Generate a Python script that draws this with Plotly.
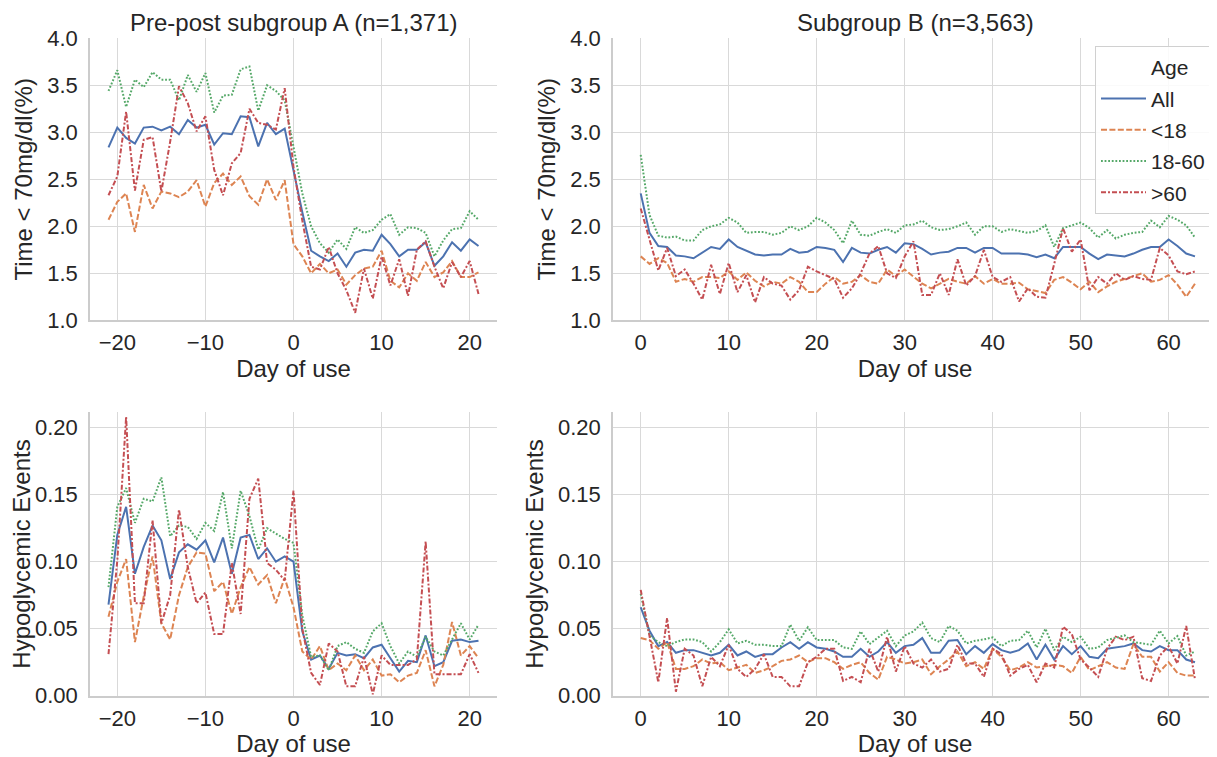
import plotly.graph_objects as go

# ---------------- data ----------------
days_a = list(range(-21, 22))
days_b = list(range(0, 64))
series_names = ["All", "<18", "18-60", ">60"]

# Top-left: Time < 70 mg/dl (%), subgroup A
tir_a_all = [2.84, 3.05, 2.94, 2.88, 3.05, 3.06, 3.02, 3.06, 2.98, 3.13, 3.05, 3.08, 2.87, 2.99, 2.98, 3.17, 3.16, 2.85, 3.10, 2.98, 3.04,
             2.58, 2.15, 1.74, 1.68, 1.63, 1.71, 1.57, 1.72, 1.75, 1.74, 1.91, 1.81, 1.68, 1.75, 1.75, 1.83, 1.58, 1.68, 1.83, 1.74, 1.86, 1.79]
tir_a_u18 = [2.07, 2.26, 2.35, 1.94, 2.44, 2.19, 2.37, 2.35, 2.31, 2.37, 2.49, 2.21, 2.46, 2.56, 2.44, 2.53, 2.32, 2.23, 2.50, 2.28, 2.49,
             1.81, 1.68, 1.50, 1.60, 1.50, 1.54, 1.38, 1.48, 1.55, 1.57, 1.74, 1.42, 1.35, 1.50, 1.42, 1.62, 1.46, 1.51, 1.63, 1.46, 1.46, 1.51]
tir_a_1860 = [3.44, 3.66, 3.27, 3.56, 3.48, 3.64, 3.56, 3.56, 3.34, 3.61, 3.43, 3.63, 3.21, 3.39, 3.40, 3.67, 3.70, 3.23, 3.50, 3.44, 3.34,
              2.85, 2.35, 2.00, 1.82, 1.72, 1.86, 1.76, 1.99, 1.93, 1.96, 2.07, 2.13, 1.91, 1.99, 1.98, 1.93, 1.68, 1.85, 1.97, 1.98, 2.16, 2.07]
tir_a_o60 = [2.33, 2.53, 3.22, 2.38, 2.92, 2.95, 2.37, 2.90, 3.49, 3.31, 3.01, 3.17, 2.60, 2.33, 2.67, 2.78, 3.25, 3.10, 3.08, 3.03, 3.47,
             2.63, 2.06, 1.57, 1.54, 1.78, 1.50, 1.32, 1.08, 1.55, 1.23, 1.68, 1.37, 1.65, 1.26, 1.75, 1.84, 1.57, 1.34, 1.62, 1.46, 1.63, 1.28]

# Top-right: Time < 70 mg/dl (%), subgroup B
tir_b_all = [2.35, 1.93, 1.79, 1.78, 1.69, 1.68, 1.66, 1.72, 1.78, 1.76, 1.86, 1.78, 1.74, 1.70, 1.69, 1.70, 1.70, 1.76, 1.72, 1.73, 1.78, 1.77,
             1.75, 1.62, 1.77, 1.72, 1.71, 1.75, 1.78, 1.72, 1.82, 1.81, 1.76, 1.70, 1.72, 1.73, 1.77, 1.77, 1.72, 1.77, 1.77, 1.71, 1.71,
             1.71, 1.70, 1.67, 1.70, 1.66, 1.78, 1.78, 1.78, 1.71, 1.65, 1.70, 1.69, 1.68, 1.71, 1.75, 1.78, 1.78, 1.86, 1.79, 1.71, 1.68]
tir_b_u18 = [1.68, 1.60, 1.66, 1.61, 1.41, 1.44, 1.41, 1.46, 1.46, 1.45, 1.52, 1.43, 1.51, 1.42, 1.36, 1.41, 1.39, 1.46, 1.41, 1.30, 1.30, 1.39,
             1.46, 1.39, 1.41, 1.48, 1.41, 1.39, 1.54, 1.47, 1.54, 1.46, 1.39, 1.34, 1.39, 1.44, 1.41, 1.39, 1.47, 1.39, 1.44, 1.39, 1.39,
             1.40, 1.33, 1.31, 1.29, 1.43, 1.46, 1.40, 1.33, 1.41, 1.30, 1.36, 1.41, 1.44, 1.47, 1.50, 1.41, 1.43, 1.48, 1.38, 1.25, 1.39]
tir_b_1860 = [2.76, 2.12, 1.90, 1.88, 1.89, 1.85, 1.85, 1.96, 2.00, 2.02, 2.09, 2.04, 1.93, 1.94, 1.94, 1.91, 1.93, 2.00, 1.96, 2.00, 2.09, 2.04,
              1.96, 1.82, 2.06, 1.91, 1.90, 1.94, 1.97, 1.93, 2.01, 2.02, 2.06, 1.99, 1.96, 1.97, 2.00, 2.04, 1.91, 2.00, 2.00, 1.94, 1.97,
              1.95, 1.93, 1.95, 2.01, 1.78, 1.98, 2.01, 2.04, 1.98, 1.88, 1.96, 1.87, 1.91, 1.93, 1.94, 2.06, 1.99, 2.11, 2.07, 2.01, 1.88]
tir_b_o60 = [2.19, 1.85, 1.53, 1.77, 1.47, 1.54, 1.39, 1.22, 1.59, 1.28, 1.61, 1.30, 1.48, 1.19, 1.46, 1.39, 1.37, 1.22, 1.32, 1.57, 1.52, 1.48,
             1.44, 1.24, 1.34, 1.50, 1.71, 1.79, 1.50, 1.45, 1.68, 1.84, 1.27, 1.27, 1.50, 1.27, 1.65, 1.37, 1.47, 1.75, 1.46, 1.41, 1.46,
             1.20, 1.34, 1.25, 1.24, 1.60, 1.98, 1.73, 1.86, 1.32, 1.46, 1.39, 1.50, 1.43, 1.47, 1.44, 1.43, 1.77, 1.69, 1.52, 1.49, 1.52]

# Bottom-left: Hypoglycemic events, subgroup A
hypo_a_all = [0.068, 0.120, 0.141, 0.091, 0.111, 0.127, 0.116, 0.087, 0.107, 0.113, 0.109, 0.116, 0.0995, 0.118, 0.091, 0.118, 0.120, 0.102, 0.110, 0.100, 0.104, 0.100,
              0.048, 0.027, 0.030, 0.020, 0.032, 0.030, 0.031, 0.028, 0.036, 0.038, 0.028, 0.018, 0.026, 0.025, 0.045, 0.022, 0.025, 0.041, 0.042, 0.040, 0.041]
hypo_a_u18 = [0.059, 0.085, 0.102, 0.040, 0.074, 0.104, 0.054, 0.042, 0.075, 0.096, 0.107, 0.106, 0.078, 0.085, 0.061, 0.081, 0.096, 0.083, 0.090, 0.069, 0.088, 0.066,
              0.033, 0.027, 0.037, 0.019, 0.024, 0.019, 0.030, 0.019, 0.027, 0.015, 0.016, 0.010, 0.015, 0.017, 0.034, 0.007, 0.023, 0.055, 0.030, 0.037, 0.028]
hypo_a_1860 = [0.081, 0.141, 0.155, 0.129, 0.147, 0.145, 0.163, 0.119, 0.127, 0.126, 0.117, 0.129, 0.123, 0.152, 0.110, 0.153, 0.134, 0.109, 0.125, 0.121, 0.117, 0.114,
               0.060, 0.029, 0.030, 0.019, 0.037, 0.040, 0.035, 0.032, 0.048, 0.054, 0.037, 0.024, 0.033, 0.029, 0.044, 0.033, 0.030, 0.042, 0.054, 0.042, 0.053]
hypo_a_o60 = [0.031, 0.101, 0.208, 0.069, 0.069, 0.131, 0.054, 0.075, 0.139, 0.096, 0.069, 0.077, 0.046, 0.046, 0.099, 0.061, 0.147, 0.162, 0.099, 0.094, 0.086, 0.153,
              0.050, 0.017, 0.008, 0.039, 0.033, 0.007, 0.007, 0.029, 0.001, 0.030, 0.023, 0.023, 0.023, 0.027, 0.115, 0.016, 0.016, 0.016, 0.016, 0.031, 0.017]

# Bottom-right: Hypoglycemic events, subgroup B
hypo_b_all = [0.066, 0.0485, 0.037, 0.040, 0.032, 0.034, 0.034, 0.032, 0.030, 0.032, 0.038, 0.030, 0.033, 0.029, 0.031, 0.031, 0.036, 0.040, 0.035, 0.040, 0.036, 0.035,
              0.033, 0.029, 0.029, 0.035, 0.029, 0.033, 0.040, 0.032, 0.037, 0.038, 0.043, 0.032, 0.032, 0.041, 0.0415, 0.031, 0.037, 0.032, 0.0385, 0.034, 0.032,
              0.034, 0.039, 0.027, 0.038, 0.027, 0.037, 0.031, 0.037, 0.029, 0.028, 0.035, 0.036, 0.037, 0.039, 0.034, 0.033, 0.037, 0.034, 0.034, 0.027, 0.025]
hypo_b_u18 = [0.043, 0.0415, 0.035, 0.040, 0.020, 0.020, 0.022, 0.027, 0.024, 0.025, 0.019, 0.021, 0.023, 0.017, 0.019, 0.022, 0.026, 0.027, 0.030, 0.025, 0.028, 0.028,
              0.025, 0.020, 0.023, 0.025, 0.017, 0.012, 0.029, 0.027, 0.024, 0.025, 0.027, 0.016, 0.022, 0.027, 0.033, 0.022, 0.025, 0.020, 0.035, 0.029, 0.019,
              0.021, 0.025, 0.021, 0.022, 0.023, 0.022, 0.017, 0.029, 0.019, 0.022, 0.025, 0.021, 0.020, 0.0385, 0.029, 0.029, 0.018, 0.025, 0.017, 0.015, 0.015]
hypo_b_1860 = [0.076, 0.045, 0.040, 0.037, 0.040, 0.042, 0.042, 0.040, 0.033, 0.040, 0.0495, 0.039, 0.041, 0.038, 0.038, 0.037, 0.037, 0.053, 0.041, 0.051, 0.0415, 0.0415,
               0.0415, 0.036, 0.035, 0.048, 0.0385, 0.0435, 0.0485, 0.037, 0.045, 0.048, 0.0545, 0.043, 0.040, 0.052, 0.0485, 0.039, 0.041, 0.042, 0.0435, 0.037, 0.041,
               0.0415, 0.0485, 0.036, 0.050, 0.034, 0.044, 0.040, 0.044, 0.035, 0.036, 0.0415, 0.0435, 0.045, 0.040, 0.039, 0.038, 0.0485, 0.039, 0.0445, 0.030, 0.033]
hypo_b_o60 = [0.079, 0.045, 0.010, 0.058, 0.003, 0.035, 0.030, 0.007, 0.029, 0.022, 0.038, 0.020, 0.014, 0.020, 0.031, 0.014, 0.014, 0.007, 0.007, 0.025, 0.029, 0.035,
              0.035, 0.011, 0.014, 0.010, 0.035, 0.018, 0.044, 0.018, 0.037, 0.024, 0.021, 0.027, 0.018, 0.020, 0.038, 0.024, 0.024, 0.014, 0.035, 0.031, 0.015,
              0.020, 0.023, 0.010, 0.024, 0.021, 0.0515, 0.046, 0.027, 0.021, 0.014, 0.035, 0.044, 0.0415, 0.044, 0.013, 0.011, 0.030, 0.037, 0.024, 0.052, 0.012]

x_ticks_a = [-20, -10, 0, 10, 20]
x_ticks_b = [0, 10, 20, 30, 40, 50, 60]
y_ticks_top = [1.0, 1.5, 2.0, 2.5, 3.0, 3.5, 4.0]
y_ticks_bot = [0.00, 0.05, 0.10, 0.15, 0.20]
title_a = "Pre-post subgroup A (n=1,371)"
title_b = "Subgroup B (n=3,563)"

# ---------------- style ----------------
colors = ["#4C72B0", "#DD8452", "#55A868", "#C44E52"]
LW = 2.0
dashes = ["solid", "6px,2.4px", "1.8px,1.8px", "5px,2px,2px,2px"]
legend_labels = ["All", "&lt;18", "18-60", "&gt;60"]
FONT = "Liberation Sans, Arial, sans-serif"
TXT = "#262626"

# the page body adds an 8px margin, so the figure is laid out in page pixels minus 8
OFF = 8
W, H = 1217 - OFF, 757 - OFF
def px_x(a, b):
    return [(a - OFF) / W, (b - OFF) / W]
def px_y(top, bottom):
    return [(H - (bottom - OFF)) / H, (H - (top - OFF)) / H]
def fx(a):
    return (a - OFF) / W
def fy(t):
    return (H - (t - OFF)) / H

fig = go.Figure()

panels = [
    ("x", "y", days_a, [tir_a_all, tir_a_u18, tir_a_1860, tir_a_o60]),
    ("x2", "y2", days_b, [tir_b_all, tir_b_u18, tir_b_1860, tir_b_o60]),
    ("x3", "y3", days_a, [hypo_a_all, hypo_a_u18, hypo_a_1860, hypo_a_o60]),
    ("x4", "y4", days_b, [hypo_b_all, hypo_b_u18, hypo_b_1860, hypo_b_o60]),
]

# legend title entry ("Age") placed like seaborn's hue title
fig.add_trace(go.Scatter(x=[None], y=[None], mode="lines", name="Age",
                         line=dict(width=0, color="rgba(0,0,0,0)"),
                         xaxis="x2", yaxis="y2", showlegend=True, legendgroup="title",
                         hoverinfo="skip"))

for xa, ya, xs, ys_list in panels:
    for i, ys in enumerate(ys_list):
        fig.add_trace(go.Scatter(
            x=xs, y=ys, mode="lines", name=legend_labels[i],
            line=dict(color=colors[i], width=LW, dash=dashes[i]),
            xaxis=xa, yaxis=ya, legendgroup=series_names[i],
            showlegend=(xa == "x2"),
        ))

grid = "#d9d9d9"
spine = "#cccccc"
tickfont = dict(family=FONT, size=22, color=TXT)
titlefont = dict(family=FONT, size=24, color=TXT)

def xaxis(domain, rng, ticks, anchor):
    return dict(domain=domain, range=rng, tickvals=ticks, anchor=anchor, automargin=False,
                showgrid=True, gridcolor=grid, gridwidth=1.3, zeroline=False,
                showline=True, linecolor=spine, linewidth=1.5,
                ticks="outside", ticklen=2, tickcolor="rgba(0,0,0,0)",
                tickfont=tickfont, title=dict(text="Day of use", font=titlefont, standoff=2))

def yaxis(domain, rng, ticks, fmt, title, anchor):
    return dict(domain=domain, range=rng, tickvals=ticks, tickformat=fmt, anchor=anchor, automargin=False,
                showgrid=True, gridcolor=grid, gridwidth=1.3, zeroline=False,
                showline=True, linecolor=spine, linewidth=1.5,
                ticks="outside", ticklen=6, tickcolor="rgba(0,0,0,0)",
                tickfont=tickfont, title=dict(text=title, font=titlefont, standoff=8))

xl = px_x(90, 497)
xr = px_x(613, 1217)
yt = px_y(38.3, 320.3)
yb = px_y(412.3, 695.7)

fig.update_layout(
    width=W, height=H,
    margin=dict(l=0, r=0, t=0, b=0, autoexpand=False),
    paper_bgcolor="white", plot_bgcolor="white",
    font=dict(family=FONT, color=TXT),
    xaxis=xaxis(xl, [-23.1, 23.1], x_ticks_a, "y"),
    yaxis=yaxis(yt, [1.0, 4.0], y_ticks_top, ".1f", "Time &lt; 70mg/dl(%)", "x"),
    xaxis2=xaxis(xr, [-3.15, 65.5], x_ticks_b, "y2"),
    yaxis2=yaxis(yt, [1.0, 4.0], y_ticks_top, ".1f", "Time &lt; 70mg/dl(%)", "x2"),
    xaxis3=xaxis(xl, [-23.1, 23.1], x_ticks_a, "y3"),
    yaxis3=yaxis(yb, [0.0, 0.2115], y_ticks_bot, ".2f", "Hypoglycemic Events", "x3"),
    xaxis4=xaxis(xr, [-3.15, 65.5], x_ticks_b, "y4"),
    yaxis4=yaxis(yb, [0.0, 0.2115], y_ticks_bot, ".2f", "Hypoglycemic Events", "x4"),
    legend=dict(x=fx(1211), y=fy(46), xanchor="right", yanchor="top",
                bgcolor="rgba(255,255,255,0.85)", bordercolor="#d0d0d0", borderwidth=1,
                font=dict(family=FONT, size=21, color=TXT),
                tracegroupgap=1, itemwidth=45, traceorder="grouped"),
    annotations=[
        dict(text=title_a, x=fx((90 + 497) / 2), y=fy(22), xref="paper", yref="paper",
             xanchor="center", yanchor="middle", showarrow=False,
             font=dict(family=FONT, size=24, color=TXT)),
        dict(text=title_b, x=fx((613 + 1217) / 2), y=fy(22), xref="paper", yref="paper",
             xanchor="center", yanchor="middle", showarrow=False,
             font=dict(family=FONT, size=24, color=TXT)),
    ],
)

fig.write_html("out.html")
